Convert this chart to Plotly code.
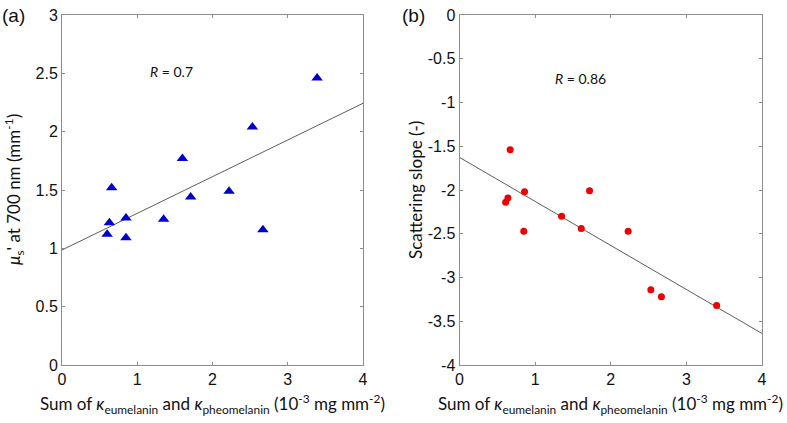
import numpy as np
import plotly.graph_objects as go

# ---- data ----
x_a = [0.60, 0.63, 0.66, 0.85, 0.85, 1.35, 1.60, 1.71, 2.22, 2.53, 2.67, 3.39]
mus_a = [1.12, 1.22, 1.52, 1.26, 1.09, 1.25, 1.77, 1.44, 1.49, 2.04, 1.16, 2.46]

x_b = [0.61, 0.64, 0.67, 0.86, 0.85, 1.35, 1.61, 1.72, 2.23, 2.53, 2.67, 3.40]
slope_b = [-2.14, -2.09, -1.54, -2.02, -2.47, -2.30, -2.44, -2.01, -2.47, -3.14, -3.22, -3.32]

x_ticks = [0, 1, 2, 3, 4]
y_ticks_a = [0, 0.5, 1, 1.5, 2, 2.5, 3]
y_ticks_b = [-4, -3.5, -3, -2.5, -2, -1.5, -1, -0.5, 0]
r_text_a = "<i>R</i> = 0.7"
r_text_b = "<i>R</i> = 0.86"

# linear fits
pa = np.polyfit(x_a, mus_a, 1)
pb = np.polyfit(x_b, slope_b, 1)
xfit = np.array([0, 4])

W, H = 787, 423
def px(x):
    return x / W
def py(y):
    return 1 - y / H

fig = go.Figure()
fig.add_trace(go.Scatter(x=xfit, y=np.polyval(pa, xfit), mode="lines",
                         line=dict(color="#333333", width=0.8), xaxis="x", yaxis="y",
                         showlegend=False, hoverinfo="skip"))
fig.add_trace(go.Scatter(x=x_a, y=mus_a, mode="markers",
                         marker=dict(symbol="triangle-up", size=10, color="#0000cc"),
                         xaxis="x", yaxis="y", showlegend=False))
fig.add_trace(go.Scatter(x=xfit, y=np.polyval(pb, xfit), mode="lines",
                         line=dict(color="#333333", width=0.8), xaxis="x2", yaxis="y2",
                         showlegend=False, hoverinfo="skip"))
fig.add_trace(go.Scatter(x=x_b, y=slope_b, mode="markers",
                         marker=dict(symbol="circle", size=7, color="#ee0000"),
                         xaxis="x2", yaxis="y2", showlegend=False))

tickfont = dict(family="Liberation Sans, Arial, sans-serif", size=16, color="#111111")
common = dict(showgrid=False, zeroline=False, showline=True, linecolor="#8c8c8c",
              linewidth=1, mirror="ticks", ticks="inside", ticklen=3,
              tickcolor="#8c8c8c", tickfont=tickfont, automargin=False)

ydom = [py(365), py(15)]
fig.update_layout(
    width=W, height=H,
    margin=dict(l=0, r=0, t=0, b=0),
    paper_bgcolor="white", plot_bgcolor="white",
    xaxis=dict(domain=[px(62), px(363)], range=[0, 4], tickvals=x_ticks,
               anchor="y", **common),
    yaxis=dict(domain=ydom, range=[0, 3], tickvals=y_ticks_a,
               ticktext=[f"{v:g}" for v in y_ticks_a], anchor="x", **common),
    xaxis2=dict(domain=[px(459.5), px(762)], range=[0, 4], tickvals=x_ticks,
                anchor="y2", **common),
    yaxis2=dict(domain=ydom, range=[-4, 0], tickvals=y_ticks_b,
                ticktext=[f"{v:g}" for v in y_ticks_b], anchor="x2", **common),
)

title_font = dict(family="Lato, Open Sans, sans-serif", size=17, color="#111111")
xtitle = ("Sum of <i>κ</i><sub>eumelanin</sub> and <i>κ</i><sub>pheomelanin</sub> "
          "(10<sup>-3</sup> mg mm<sup>-2</sup>)")
ann = [
    dict(text=xtitle, x=px(212.5), y=py(404), xref="paper", yref="paper",
         showarrow=False, font=title_font, xanchor="center", yanchor="middle"),
    dict(text=xtitle, x=px(610.5), y=py(404), xref="paper", yref="paper",
         showarrow=False, font=title_font, xanchor="center", yanchor="middle"),
    dict(text="<i>μ</i><sub>s</sub>' at 700 nm (mm<sup>-1</sup>)", x=px(14), y=py(190),
         xref="paper", yref="paper", showarrow=False, font=title_font, textangle=-90,
         xanchor="center", yanchor="middle"),
    dict(text="Scattering slope (-)", x=px(415), y=py(190),
         xref="paper", yref="paper", showarrow=False, font=title_font, textangle=-90,
         xanchor="center", yanchor="middle"),
    dict(text="(a)", x=px(0), y=py(15), xref="paper", yref="paper", showarrow=False,
         font=dict(family="Liberation Sans, Arial, sans-serif", size=19, color="#111111"),
         xanchor="left", yanchor="middle"),
    dict(text="(b)", x=px(400), y=py(15), xref="paper", yref="paper", showarrow=False,
         font=dict(family="Liberation Sans, Arial, sans-serif", size=19, color="#111111"),
         xanchor="left", yanchor="middle"),
    dict(text=r_text_a, x=1.45, y=2.52, xref="x", yref="y", showarrow=False,
         font=dict(family="Lato, Open Sans, sans-serif", size=14, color="#111111")),
    dict(text=r_text_b, x=1.60, y=-0.73, xref="x2", yref="y2", showarrow=False,
         font=dict(family="Lato, Open Sans, sans-serif", size=14, color="#111111")),
]
fig.update_layout(annotations=ann)

fig.write_html("out.html", config={"displayModeBar": False},
               post_script="document.body.style.margin='0';document.body.style.overflow='hidden';")
